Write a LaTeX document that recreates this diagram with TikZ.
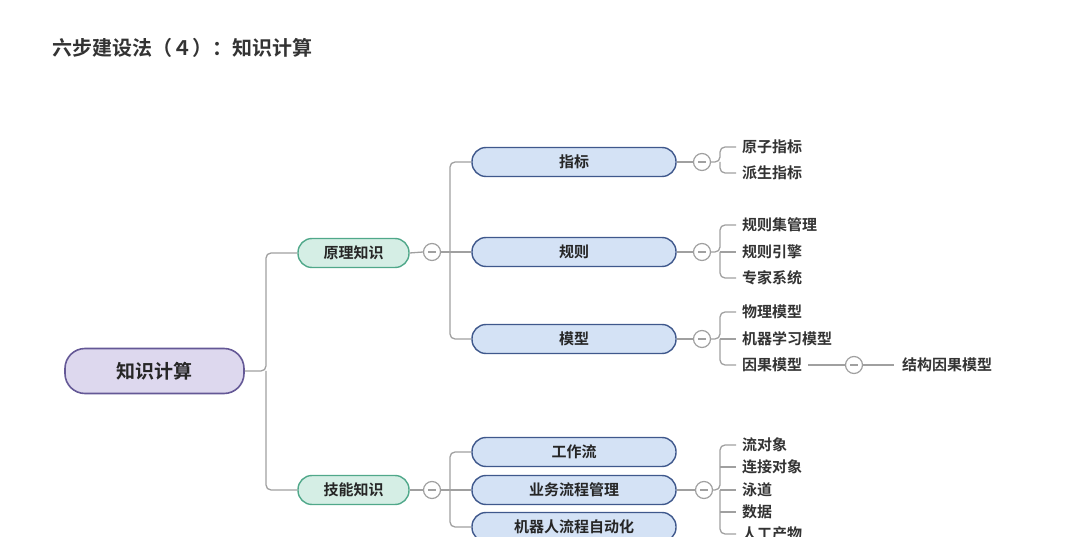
\documentclass[tikz,border=0pt]{standalone}
\usepackage{fontspec}
\setmainfont{Noto Sans CJK SC}[BoldFont={Noto Sans CJK SC Bold}]
\definecolor{bfill}{RGB}{212,226,245}
\definecolor{bdraw}{RGB}{63,88,140}
\definecolor{gfill}{RGB}{213,238,229}
\definecolor{gdraw}{RGB}{80,168,138}
\definecolor{rfill}{RGB}{221,216,238}
\definecolor{rdraw}{RGB}{100,88,150}
\definecolor{lgray}{RGB}{160,160,160}
\begin{document}
\begin{tikzpicture}[x=1pt,y=-1pt,font=\bfseries,
  ln/.style={draw=lgray,line width=1.3pt,rounded corners=5pt},
  col/.style={circle,draw=lgray,line width=1.2pt,minimum size=17pt,inner sep=0pt,fill=white},
  blue/.style={rounded corners=14pt,draw=bdraw,line width=1.4pt,fill=bfill,minimum width=204pt,minimum height=29pt,font=\bfseries\fontsize{15}{15}\selectfont,text=black!85},
  green/.style={rounded corners=14pt,draw=gdraw,line width=1.4pt,fill=gfill,minimum width=111pt,minimum height=29pt,font=\bfseries\fontsize{15}{15}\selectfont,text=black!85},
  leaf/.style={anchor=west,inner sep=0pt,font=\bfseries\fontsize{15}{15}\selectfont,text=black!80}]
\useasboundingbox (0,0) rectangle (1080,537);
\clip (0,0) rectangle (1080,537);
\node[anchor=west,inner sep=0pt,font=\bfseries\fontsize{20}{20}\selectfont,text=black!80] (title) at (52,48) {六步建设法（４）：知识计算};
\node[rounded corners=20pt,draw=rdraw,line width=1.6pt,fill=rfill,minimum width=179pt,minimum height=45pt,font=\bfseries\fontsize{19}{19}\selectfont,text=black!85] (root) at (154.5,371) {知识计算};
\node[green] (yl) at (353.5,253) {原理知识};
\node[green] (jn) at (353.5,490) {技能知识};
\node[col] (c1) at (432,252) {};
\node[col] (c2) at (432,490) {};
\foreach \n/\t/\y in {zb/指标/162,gz/规则/252,mx/模型/339,gzl/工作流/452,yw/业务流程管理/490,jq/机器人流程自动化/527}
  \node[blue] (\n) at (574,\y) {\t};
\node[col] (d1) at (702,162) {};
\node[col] (d2) at (702,252) {};
\node[col] (d3) at (702,339) {};
\node[col] (d4) at (704,490) {};
\node[col] (e1) at (854,365) {};
\foreach \n/\t/\y in {a1/原子指标/147,a2/派生指标/173,b1/规则集管理/225,b2/规则引擎/252,b3/专家系统/278,m1/物理模型/312,m2/机器学习模型/339,m3/因果模型/365,f1/流对象/445,f2/连接对象/467,f3/泳道/490,f4/数据/512,f5/人工产物/534}
  \node[leaf] (\n) at (742,\y) {\t};
\node[leaf] (s1) at (902,365) {结构因果模型};
\draw[ln] (root.east) -- (266,371) |- (yl.west);
\draw[ln] (266,371) |- (jn.west);
\draw[ln] (yl.east) -- (c1.west);
\draw[ln] (jn.east) -- (c2.west);
\draw[ln] (c1.east) -- (450,252) -- (gz.west);
\draw[ln] (450,252) |- (zb.west);
\draw[ln] (450,252) |- (mx.west);
\draw[ln] (c2.east) -- (450,490) -- (yw.west);
\draw[ln] (450,490) |- (gzl.west);
\draw[ln] (450,490) |- (jq.west);
\foreach \b/\c in {zb/d1,gz/d2,mx/d3,yw/d4} \draw[ln] (\b.east) -- (\c.west);
\draw[ln] (d1.east) -- (720,162) |- ([xshift=-6pt]a1.west);
\draw[ln] (720,162) |- ([xshift=-6pt]a2.west);
\draw[ln] (d2.east) -- (720,252) |- ([xshift=-6pt]b1.west);
\draw[ln] (720,252) |- ([xshift=-6pt]b3.west);
\draw[ln] (720,252) -- ([xshift=-6pt]b2.west);
\draw[ln] (d3.east) -- (720,339) |- ([xshift=-6pt]m1.west);
\draw[ln] (720,339) |- ([xshift=-6pt]m3.west);
\draw[ln] (720,339) -- ([xshift=-6pt]m2.west);
\draw[ln] (d4.east) -- (720,490) |- ([xshift=-6pt]f1.west);
\draw[ln] (720,490) |- ([xshift=-6pt]f5.west);
\draw[ln] (720,467) -- ([xshift=-6pt]f2.west);
\draw[ln] (720,490) -- ([xshift=-6pt]f3.west);
\draw[ln] (720,512) -- ([xshift=-6pt]f4.west);
\draw[ln] ([xshift=6pt]m3.east) -- (e1.west);
\draw[ln] (e1.east) -- ([xshift=-8pt]s1.west);
\foreach \c in {c1,c2,d1,d2,d3,d4,e1} \draw[lgray,line width=1.2pt] ([xshift=-4pt]\c.center) -- ([xshift=4pt]\c.center);
\end{tikzpicture}
\end{document}
